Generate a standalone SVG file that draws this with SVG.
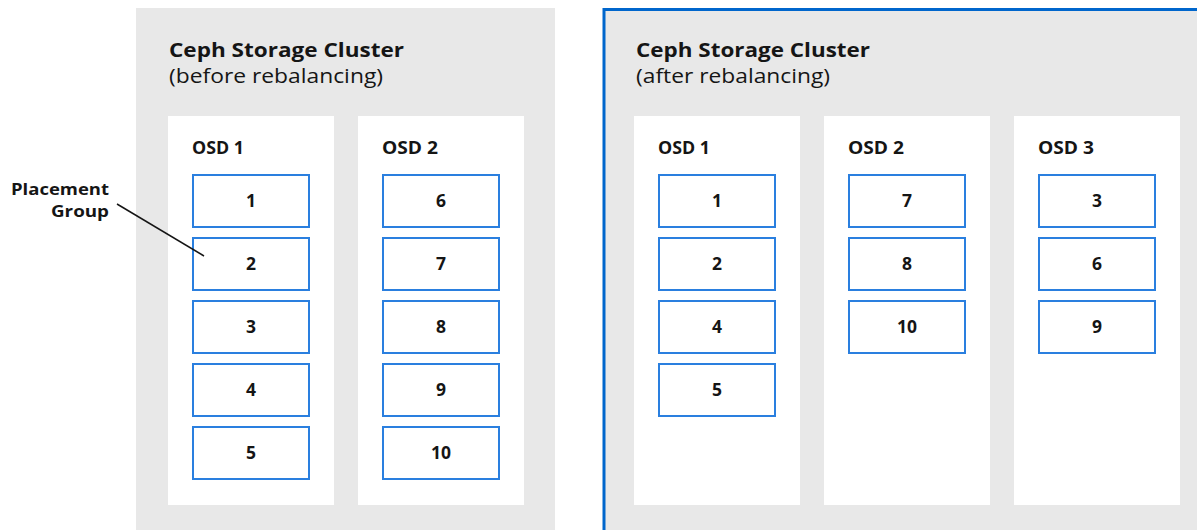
<svg xmlns="http://www.w3.org/2000/svg" width="1197" height="530" viewBox="0 0 1197 530">
<style>
.cluster{fill:#e8e8e8}
.panel{fill:#ffffff}
.pg{fill:#ffffff;stroke:#2a7fdf;stroke-width:2}
.title{font-family:"Open Sans","Liberation Sans",sans-serif;font-weight:700;font-size:19px;fill:#151515}
.sub{font-family:"Open Sans","Liberation Sans",sans-serif;font-weight:400;font-size:20.5px;fill:#151515}
.osd{font-family:"Open Sans","Liberation Sans",sans-serif;font-weight:700;font-size:17px;fill:#151515}
.num{font-family:"Open Sans","Liberation Sans",sans-serif;font-weight:700;font-size:17.5px;fill:#151515;text-anchor:middle}
.lbl{font-family:"Open Sans","Liberation Sans",sans-serif;font-weight:700;font-size:16px;fill:#151515;text-anchor:end}
</style>
<rect width="1197" height="530" fill="#ffffff"/>

<g id="cluster-before">
<rect class="cluster" x="136" y="8" width="419" height="530"/>
<text class="title" x="169" y="57" textLength="235" lengthAdjust="spacingAndGlyphs">Ceph Storage Cluster</text>
<text class="sub" x="169" y="83" textLength="214" lengthAdjust="spacingAndGlyphs">(before rebalancing)</text>
</g>

<g id="cluster-after">
<rect class="cluster" x="604" y="9.5" width="610" height="540" stroke="#0066cc" stroke-width="3"/>
<text class="title" x="636" y="57" textLength="234" lengthAdjust="spacingAndGlyphs">Ceph Storage Cluster</text>
<text class="sub" x="636" y="83" textLength="194" lengthAdjust="spacingAndGlyphs">(after rebalancing)</text>
</g>

<g id="before-osd1">
<rect class="panel" x="168" y="116" width="166" height="389"/>
<text class="osd" x="192" y="154" textLength="52" lengthAdjust="spacingAndGlyphs">OSD 1</text>
</g>
<g id="before-osd2">
<rect class="panel" x="358" y="116" width="166" height="389"/>
<text class="osd" x="382" y="154" textLength="56" lengthAdjust="spacingAndGlyphs">OSD 2</text>
</g>
<g id="after-osd1">
<rect class="panel" x="634" y="116" width="166" height="389"/>
<text class="osd" x="658" y="154" textLength="52" lengthAdjust="spacingAndGlyphs">OSD 1</text>
</g>
<g id="after-osd2">
<rect class="panel" x="824" y="116" width="166" height="389"/>
<text class="osd" x="848" y="154" textLength="56" lengthAdjust="spacingAndGlyphs">OSD 2</text>
</g>
<g id="after-osd3">
<rect class="panel" x="1014" y="116" width="166" height="389"/>
<text class="osd" x="1038" y="154" textLength="56" lengthAdjust="spacingAndGlyphs">OSD 3</text>
</g>

<g id="b1-pg1"><rect class="pg" x="193" y="175" width="116" height="52"/><text class="num" x="251" y="207">1</text></g>
<g id="b1-pg2"><rect class="pg" x="193" y="238" width="116" height="52"/><text class="num" x="251" y="270">2</text></g>
<g id="b1-pg3"><rect class="pg" x="193" y="301" width="116" height="52"/><text class="num" x="251" y="333">3</text></g>
<g id="b1-pg4"><rect class="pg" x="193" y="364" width="116" height="52"/><text class="num" x="251" y="396">4</text></g>
<g id="b1-pg5"><rect class="pg" x="193" y="427" width="116" height="52"/><text class="num" x="251" y="459">5</text></g>

<g id="b2-pg6"><rect class="pg" x="383" y="175" width="116" height="52"/><text class="num" x="441" y="207">6</text></g>
<g id="b2-pg7"><rect class="pg" x="383" y="238" width="116" height="52"/><text class="num" x="441" y="270">7</text></g>
<g id="b2-pg8"><rect class="pg" x="383" y="301" width="116" height="52"/><text class="num" x="441" y="333">8</text></g>
<g id="b2-pg9"><rect class="pg" x="383" y="364" width="116" height="52"/><text class="num" x="441" y="396">9</text></g>
<g id="b2-pg10"><rect class="pg" x="383" y="427" width="116" height="52"/><text class="num" x="441" y="459">10</text></g>

<g id="a1-pg1"><rect class="pg" x="659" y="175" width="116" height="52"/><text class="num" x="717" y="207">1</text></g>
<g id="a1-pg2"><rect class="pg" x="659" y="238" width="116" height="52"/><text class="num" x="717" y="270">2</text></g>
<g id="a1-pg4"><rect class="pg" x="659" y="301" width="116" height="52"/><text class="num" x="717" y="333">4</text></g>
<g id="a1-pg5"><rect class="pg" x="659" y="364" width="116" height="52"/><text class="num" x="717" y="396">5</text></g>

<g id="a2-pg7"><rect class="pg" x="849" y="175" width="116" height="52"/><text class="num" x="907" y="207">7</text></g>
<g id="a2-pg8"><rect class="pg" x="849" y="238" width="116" height="52"/><text class="num" x="907" y="270">8</text></g>
<g id="a2-pg10"><rect class="pg" x="849" y="301" width="116" height="52"/><text class="num" x="907" y="333">10</text></g>

<g id="a3-pg3"><rect class="pg" x="1039" y="175" width="116" height="52"/><text class="num" x="1097" y="207">3</text></g>
<g id="a3-pg6"><rect class="pg" x="1039" y="238" width="116" height="52"/><text class="num" x="1097" y="270">6</text></g>
<g id="a3-pg9"><rect class="pg" x="1039" y="301" width="116" height="52"/><text class="num" x="1097" y="333">9</text></g>

<g id="placement-group-label">
<text class="lbl" x="109" y="195" textLength="98" lengthAdjust="spacingAndGlyphs">Placement</text>
<text class="lbl" x="109" y="217" textLength="58" lengthAdjust="spacingAndGlyphs">Group</text>
</g>

<g id="connectors">
<line x1="117" y1="204" x2="204" y2="256" stroke="#151515" stroke-width="1.5"/>
</g>
</svg>
